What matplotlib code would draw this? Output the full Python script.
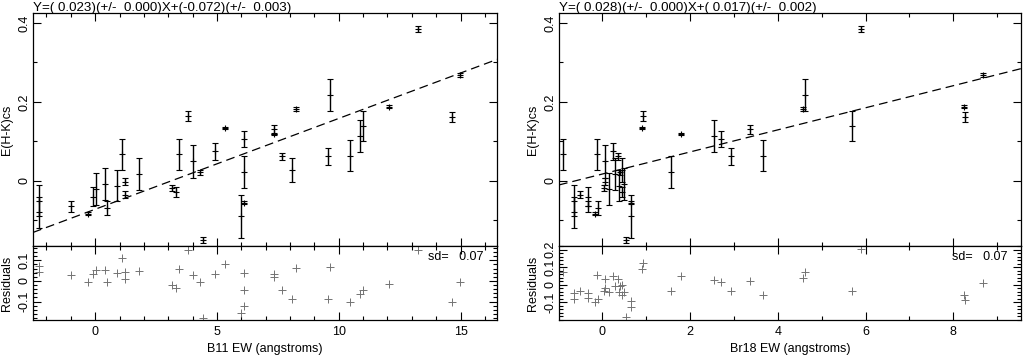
import numpy as np
import matplotlib
matplotlib.use("Agg")
from matplotlib import pyplot as plt
from matplotlib.ticker import MultipleLocator

# E(H-K)cs and its error, shared by both panels (one entry per object)
ehk = [0.385, 0.268, 0.188, 0.162, 0.218, 0.182, 0.164, 0.134, 0.130, 0.118,
       0.139, 0.114, 0.106, 0.062, 0.064, 0.067, 0.067, 0.049, 0.075, 0.062,
       0.023, 0.028, 0.018, 0.022, -0.149, -0.090, -0.055, -0.018, -0.028, -0.002,
       -0.035, -0.012, -0.008, -0.020, -0.040, -0.083, -0.068, -0.065, -0.050, -0.080]
ehk_err = [0.007, 0.004, 0.003, 0.013, 0.040, 0.006, 0.013, 0.003, 0.011, 0.003,
           0.039, 0.040, 0.020, 0.022, 0.040, 0.040, 0.040, 0.042, 0.022, 0.008,
           0.040, 0.030, 0.040, 0.006, 0.008, 0.055, 0.003, 0.008, 0.012, 0.008,
           0.008, 0.040, 0.040, 0.040, 0.025, 0.004, 0.018, 0.015, 0.040, 0.040]
b11_ew = [13.24, 14.96, 12.05, 14.67, 9.63, 8.24, 3.81, 5.33, 7.33, 7.33,
          11.00, 10.86, 6.10, 9.55, 10.45, 1.12, 3.44, 4.00, 4.92, 7.66,
          6.10, 8.07, 1.82, 4.30, 4.43, 6.00, 6.10, 3.15, 3.32, 1.23,
          1.23, 0.90, 0.41, 0.04, -0.09, -0.28, 0.50, -1.00, -2.30, -2.30]
br18_ew = [5.89, 8.68, 8.23, 8.27, 4.61, 4.57, 0.93, 0.91, 3.36, 1.80,
           5.68, 2.55, 2.70, 2.93, 3.66, -0.89, -0.11, 0.07, 0.26, 0.36,
           1.57, 0.45, 0.30, 0.42, 0.54, 0.67, 0.67, 0.05, 0.45, 0.07,
           -0.50, 0.38, 0.50, 0.16, -0.33, -0.16, -0.10, -0.33, -0.64, -0.64]

# fit results printed above each panel
fits = [(0.023, -0.072), (0.028, 0.017)]
titles = ["Y=( 0.023)(+/-  0.000)X+(-0.072)(+/-  0.003)",
          "Y=( 0.028)(+/-  0.000)X+( 0.017)(+/-  0.002)"]
xlabels = ["B11 EW (angstroms)", "Br18 EW (angstroms)"]
sd_text = ["sd=   0.07", "sd=   0.07"]

plt.rcParams['font.family'] = ['Liberation Sans', 'DejaVu Sans']
plt.rcParams['font.size'] = 9

fig = plt.figure(figsize=(10.23, 3.59), dpi=100)

panels = [
    dict(x=b11_ew, left=0.0323, width=0.4536, xlim=(-2.55, 16.5), xmaj=5,
         rlim=(-0.19, 0.17), ticks=[-0.1, 0, 0.1]),
    dict(x=br18_ew, left=0.5464, width=0.4517, xlim=(-0.98, 9.54), xmaj=2,
         rlim=(-0.2, 0.22), ticks=[-0.1, 0, 0.1, 0.2]),
]

for i, p in enumerate(panels):
    x = np.array(p["x"])
    y = np.array(ehk)
    slope, icpt = fits[i]

    ax = fig.add_axes([p["left"], 0.3148, p["width"], 0.649])
    rx = fig.add_axes([p["left"], 0.1086, p["width"], 0.2062], sharex=ax)

    ax.errorbar(x, y, yerr=ehk_err, fmt='+', color='black', ms=4, mew=0.8,
                elinewidth=1.0, capsize=2, capthick=0.8)
    xx = np.array(p["xlim"])
    ax.plot(xx, slope * xx + icpt, color='black', lw=0.9, dashes=(7, 4))
    ax.set_xlim(p["xlim"])
    ax.set_yticks([0, 0.2, 0.4])
    ax.set_yticklabels(["0", "0.2", "0.4"], rotation=90, va='center')
    ax.yaxis.set_minor_locator(MultipleLocator(0.1))
    ax.set_ylim(-0.165, 0.425)
    ax.set_ylabel("E(H-K)cs", labelpad=4)
    ax.text(0, 1.01, titles[i], transform=ax.transAxes, ha='left', va='baseline',
            fontsize=9.6)
    ax.tick_params(labelbottom=False)

    res = y - (slope * x + icpt)
    rx.plot(x, res, '+', color='0.45', ms=6, mew=0.7)
    rx.set_ylim(p["rlim"])
    rx.set_yticks(p["ticks"])
    rx.set_yticklabels(["0" if t == 0 else "%.1f" % t for t in p["ticks"]],
                       rotation=90, va='center')
    rx.yaxis.set_minor_locator(MultipleLocator(0.02))
    rx.set_ylabel("Residuals", labelpad=4)
    rx.set_xlabel(xlabels[i], labelpad=4)
    rx.text(0.97, 0.93, sd_text[i], transform=rx.transAxes, ha='right', va='top', fontsize=9)

    rx.xaxis.set_major_locator(MultipleLocator(p["xmaj"]))
    rx.xaxis.set_minor_locator(MultipleLocator(1))
    rx.set_xlim(p["xlim"])

    for a in (ax, rx):
        a.tick_params(which='both', direction='in', top=True, right=True, width=0.8)
        a.tick_params(which='major', length=6)
        a.tick_params(which='minor', length=3)
        for s in a.spines.values():
            s.set_linewidth(0.9)
    rx.tick_params(axis='x', pad=4)
    rx.tick_params(axis='y', pad=2)
    ax.tick_params(axis='y', pad=2)

fig.savefig("out.png", dpi=100)
